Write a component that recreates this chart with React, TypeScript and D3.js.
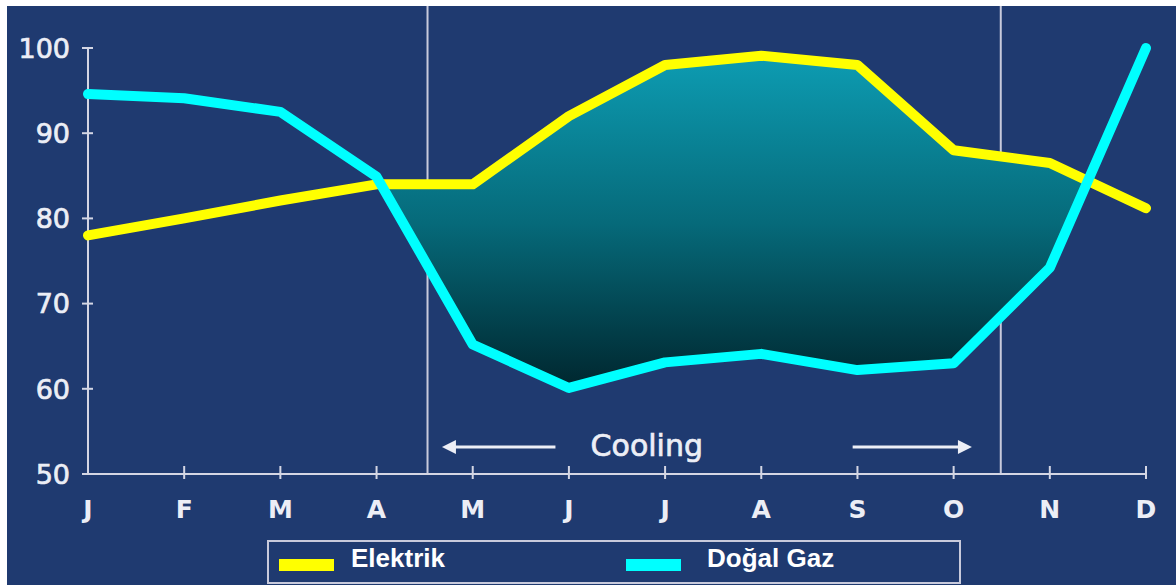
import React from "react";
import * as d3 from "d3";

const months = ["J", "F", "M", "A", "M", "J", "J", "A", "S", "O", "N", "D"];
const elektrik = [78, 80, 82.1, 84, 84, 92, 98, 99.1, 98, 88, 86.5, 81.2];
const dogalGaz = [94.6, 94.1, 92.5, 84.9, 65.2, 60.1, 63.1, 64.1, 62.2, 63, 74.2, 100];
const yTicks = [50, 60, 70, 80, 90, 100];
const seriesNames = ["Elektrik", "Doğal Gaz"];
const seriesColors = ["#ffff00", "#00ffff"];
const coolingStart = 3.53;
const coolingEnd = 9.49;
const coolingLabel = "Cooling";

const W = 1176;
const H = 585;

export default function App() {
  const x = d3.scaleLinear().domain([0, months.length - 1]).range([88, 1146]);
  const y = d3.scaleLinear().domain([50, 100]).range([474, 48]);

  type P = { i: number; e: number; g: number };
  const pts: P[] = [];
  for (let i = 0; i < months.length; i++) {
    pts.push({ i, e: elektrik[i], g: dogalGaz[i] });
    if (i < months.length - 1) {
      const d0 = elektrik[i] - dogalGaz[i];
      const d1 = elektrik[i + 1] - dogalGaz[i + 1];
      if (d0 * d1 < 0) {
        const t = d0 / (d0 - d1);
        const v = elektrik[i] + t * (elektrik[i + 1] - elektrik[i]);
        pts.push({ i: i + t, e: v, g: v });
      }
    }
  }
  const area = d3
    .area<P>()
    .defined((p) => p.e >= p.g - 1e-9)
    .x((p) => x(p.i))
    .y0((p) => y(p.g))
    .y1((p) => y(p.e));

  const line = d3
    .line<number>()
    .x((_, i) => x(i))
    .y((v) => y(v));

  const axisColor = "#d4d6e4";
  const textColor = "#eceef6";
  const sans = "'DejaVu Sans', Verdana, sans-serif";
  const arial = "'Liberation Sans', Arial, sans-serif";

  const arrowY = 447;
  const leftHead = x(3.68);
  const leftTail = x(4.86);
  const rightTail = x(7.95);
  const rightHead = x(9.19);

  return (
    <svg
      width={W}
      height={H}
      style={{ position: "absolute", left: 0, top: 0 }}
      xmlns="http://www.w3.org/2000/svg"
    >
      <defs>
        <linearGradient id="fillGrad" gradientUnits="userSpaceOnUse" x1="0" y1={y(99)} x2="0" y2={y(60)}>
          <stop offset="0" stopColor="#0d9cb2" />
          <stop offset="0.5" stopColor="#066a7a" />
          <stop offset="1" stopColor="#00262e" />
        </linearGradient>
      </defs>
      <rect x={0} y={0} width={W} height={H} fill="#ffffff" />
      <rect x={7} y={6} width={W - 7} height={H - 6} fill="#1f3a70" />

      {[coolingStart, coolingEnd].map((c, k) => (
        <line key={k} x1={x(c)} x2={x(c)} y1={6} y2={y(50)} stroke="#c8cadc" strokeWidth={2} />
      ))}

      <path d={area(pts) || ""} fill="url(#fillGrad)" />

      <line x1={x(0)} x2={x(months.length - 1)} y1={y(50)} y2={y(50)} stroke={axisColor} strokeWidth={2} />
      <line x1={x(0)} x2={x(0)} y1={y(50)} y2={y(100) - 1} stroke={axisColor} strokeWidth={2} />
      {months.map((m, i) => (
        <g key={"m" + i}>
          {i > 0 && (
            <line x1={x(i)} x2={x(i)} y1={y(50) - 8} y2={y(50) + 5} stroke={axisColor} strokeWidth={2} />
          )}
          <text
            x={x(i)}
            y={518}
            textAnchor="middle"
            fill={textColor}
            fontFamily={sans}
            fontSize={25}
            fontWeight="bold"
          >
            {m}
          </text>
        </g>
      ))}
      {yTicks.map((t) => (
        <g key={"y" + t}>
          <line x1={x(0) - 6} x2={x(0) + 5} y1={y(t)} y2={y(t)} stroke={axisColor} strokeWidth={2} />
          <text
            x={70}
            y={y(t)}
            dy="0.36em"
            textAnchor="end"
            fill={textColor}
            stroke={textColor}
            strokeWidth={0.7}
            fontFamily={sans}
            fontSize={27}
          >
            {t}
          </text>
        </g>
      ))}

      <path
        d={line(elektrik) || ""}
        fill="none"
        stroke={seriesColors[0]}
        strokeWidth={10}
        strokeLinejoin="round"
        strokeLinecap="round"
      />
      <path
        d={line(dogalGaz) || ""}
        fill="none"
        stroke={seriesColors[1]}
        strokeWidth={10}
        strokeLinejoin="round"
        strokeLinecap="round"
      />

      <text
        x={x(5.81)}
        y={456}
        textAnchor="middle"
        fill={textColor}
        stroke={textColor}
        strokeWidth={0.7}
        fontFamily={sans}
        fontSize={30}
      >
        {coolingLabel}
      </text>
      <line x1={leftHead + 10} x2={leftTail} y1={arrowY} y2={arrowY} stroke={textColor} strokeWidth={3} />
      <path
        d={`M${leftHead},${arrowY} L${leftHead + 14},${arrowY - 7} L${leftHead + 14},${arrowY + 7} Z`}
        fill={textColor}
      />
      <line x1={rightTail} x2={rightHead - 10} y1={arrowY} y2={arrowY} stroke={textColor} strokeWidth={3} />
      <path
        d={`M${rightHead},${arrowY} L${rightHead - 14},${arrowY - 7} L${rightHead - 14},${arrowY + 7} Z`}
        fill={textColor}
      />

      <rect x={268} y={541} width={692} height={42} fill="none" stroke="#c8cadc" strokeWidth={2} />
      {seriesNames.map((n, k) => {
        const sx = k === 0 ? 279 : 626;
        const tx = k === 0 ? 351 : 707;
        return (
          <g key={n}>
            <rect x={sx} y={559} width={55} height={12} fill={seriesColors[k]} />
            <text x={tx} y={567} fill="#ffffff" fontFamily={arial} fontSize={26} fontWeight="bold">
              {n}
            </text>
          </g>
        );
      })}
    </svg>
  );
}
